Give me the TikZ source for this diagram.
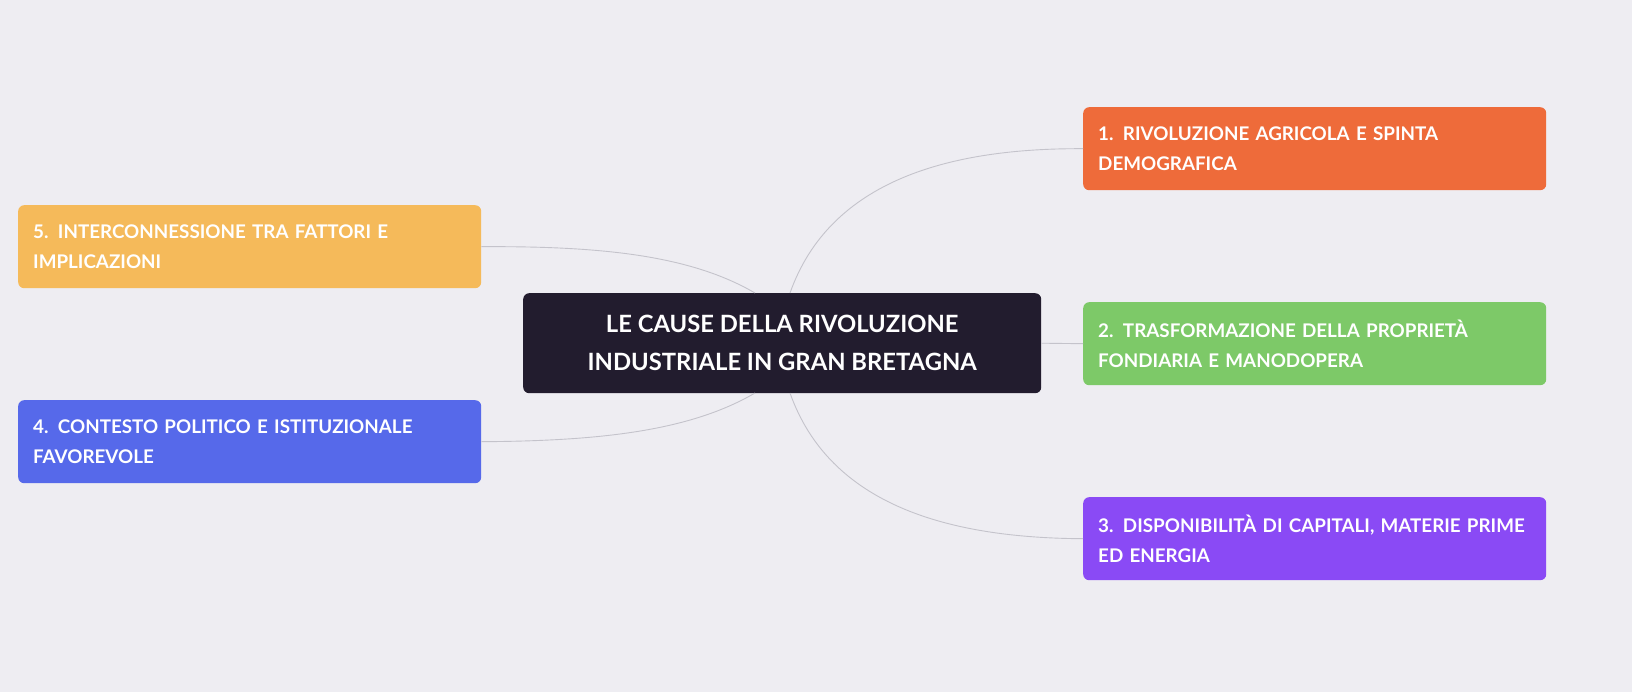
\documentclass[tikz,border=0pt]{standalone}
\usepackage{fontspec}
\setmainfont{Lato}
\hyphenpenalty=10000
\exhyphenpenalty=10000
\definecolor{bg}{HTML}{EEEDF2}
\definecolor{cdark}{HTML}{221C2E}
\definecolor{corange}{HTML}{EE6B3A}
\definecolor{cgreen}{HTML}{7DC968}
\definecolor{cpurple}{HTML}{8A4AF5}
\definecolor{cyellow}{HTML}{F5BA5A}
\definecolor{cblue}{HTML}{5669EA}
\definecolor{cline}{HTML}{C4C3CB}
\begin{document}
\begin{tikzpicture}[x=1pt,y=-1pt,
  branch/.style={rounded corners=6pt,minimum width=463pt,minimum height=83pt,text width=433pt,inner sep=15pt,align=left,text=white,font=\fontsize{18.8}{30}\selectfont\bfseries,anchor=north west},
  link/.style={draw=cline,line width=0.9pt}]
\useasboundingbox (0,0) rectangle (1632,692);
\fill[bg] (0,0) rectangle (1632,692);
\node[fill=cdark,rounded corners=6pt,minimum width=518pt,minimum height=100pt,align=center,text=white,font=\fontsize{23.8}{38}\selectfont\bfseries,anchor=north west] (c) at (523,293) {LE CAUSE DELLA RIVOLUZIONE\\INDUSTRIALE IN GRAN BRETAGNA};
\node[branch,fill=corange] (n1) at (1083,107) {1. RIVOLUZIONE AGRICOLA E SPINTA DEMOGRAFICA};
\node[branch,fill=cgreen] (n2) at (1083,302) {2. TRASFORMAZIONE DELLA PROPRIETÀ FONDIARIA E MANODOPERA};
\node[branch,fill=cpurple] (n3) at (1083,497) {3. DISPONIBILITÀ DI CAPITALI, MATERIE PRIME ED ENERGIA};
\node[branch,fill=cyellow] (n5) at (18,205) {5. INTERCONNESSIONE TRA FATTORI E IMPLICAZIONI};
\node[branch,fill=cblue] (n4) at (18,400) {4. CONTESTO POLITICO E ISTITUZIONALE FAVOREVOLE};
\coordinate (ct1) at (790,293);
\coordinate (cb1) at (790,393);
\coordinate (ct2) at (755,293);
\coordinate (cb2) at (755,393);
\draw[link] (ct1) .. controls (830,180) and (950,148) .. (n1.west);
\draw[link] (c.east) -- (n2.west);
\draw[link] (cb1) .. controls (830,506) and (950,538) .. (n3.west);
\draw[link] (ct2) .. controls (690,255) and (600,246) .. (n5.east);
\draw[link] (cb2) .. controls (690,431) and (600,441) .. (n4.east);
\end{tikzpicture}
\end{document}
